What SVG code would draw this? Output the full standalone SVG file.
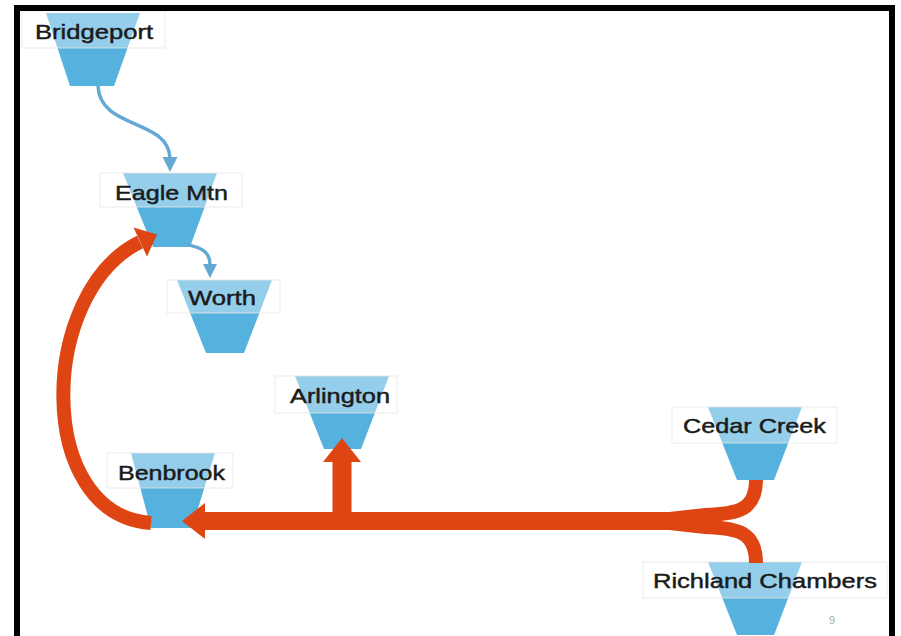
<svg xmlns="http://www.w3.org/2000/svg" width="901" height="636" viewBox="0 0 901 636">
<style>
.trap{fill:#55b1dd}
.lbl{fill:#ffffff;fill-opacity:0.38;stroke:#e6e6e6;stroke-width:0.8}
.txt{font-family:"Liberation Sans",Arial,sans-serif;font-size:21px;fill:#1a1a1a;stroke:#1a1a1a;stroke-width:0.45;text-anchor:middle}
.blue{fill:none;stroke:#64a8d4;stroke-width:3.5}
.bluehead{fill:#64a8d4}
.org{fill:none;stroke:#df4512}
.orghead{fill:#df4512}
</style>
<rect width="901" height="636" fill="#ffffff"/>
<g id="node-bridgeport">
<path class="trap" d="M46,13 L140,13 L114,86 L70,86 Z"/>
<rect class="lbl" x="22" y="11" width="143" height="37"/>
<text class="txt" x="94" y="39" textLength="118" lengthAdjust="spacingAndGlyphs">Bridgeport</text>
</g>
<g id="node-eagle-mtn">
<path class="trap" d="M123,173 L217,173 L190,247 L153,247 Z"/>
<rect class="lbl" x="100" y="173" width="142" height="34"/>
<text class="txt" x="171.5" y="200" textLength="113" lengthAdjust="spacingAndGlyphs">Eagle Mtn</text>
</g>
<g id="node-worth">
<path class="trap" d="M177,280 L272,280 L244,353 L206,353 Z"/>
<rect class="lbl" x="167" y="280" width="113" height="33"/>
<text class="txt" x="222" y="305" textLength="68" lengthAdjust="spacingAndGlyphs">Worth</text>
</g>
<g id="node-arlington">
<path class="trap" d="M295,376 L389,376 L361,449 L324,449 Z"/>
<rect class="lbl" x="275" y="376" width="122" height="37"/>
<text class="txt" x="340" y="403" textLength="100" lengthAdjust="spacingAndGlyphs">Arlington</text>
</g>
<g id="node-benbrook">
<path class="trap" d="M131,453 L215,453 L192,528 L151,528 Z"/>
<rect class="lbl" x="107" y="453" width="126" height="35"/>
<text class="txt" x="171.5" y="480" textLength="107" lengthAdjust="spacingAndGlyphs">Benbrook</text>
</g>
<g id="node-cedar-creek">
<path class="trap" d="M708,407 L802,407 L774,480 L737,480 Z"/>
<rect class="lbl" x="672" y="407" width="165" height="36"/>
<text class="txt" x="754.5" y="433" textLength="143" lengthAdjust="spacingAndGlyphs">Cedar Creek</text>
</g>
<g id="node-richland-chambers">
<path class="trap" d="M708,562 L802,562 L774,635 L737,635 Z"/>
<rect class="lbl" x="643" y="562" width="244" height="36"/>
<text class="txt" x="765" y="588" textLength="224" lengthAdjust="spacingAndGlyphs">Richland Chambers</text>
</g>
<g id="connectors">
<path class="blue" d="M98,86 C100,130 168,118 170,158"/>
<polygon class="bluehead" points="170,172 162.5,157 177.5,157"/>
<path class="blue" d="M186,244 C200,248 210,250 210,265"/>
<polygon class="bluehead" points="210,278 203,264 217,264"/>
<path class="org" stroke-width="14" d="M151,523 C34,515 38,292 140,242"/>
<polygon class="orghead" points="157,234.5 147,256.5 133.5,227.4"/>
<path class="org" stroke-width="14" d="M756,480 C756,510 738,514 705,515 L670,519"/>
<path class="org" stroke-width="14" d="M756,563 C756,532 738,528 705,527 L670,523"/>
<path class="org" stroke-width="18" d="M672,521 L203,521"/>
<polygon class="orghead" points="182,521 205,503 205,539"/>
<path class="org" stroke-width="19" d="M342,521 L342,460"/>
<polygon class="orghead" points="342,438 323,462 361,462"/>
</g>
<text x="832" y="624" font-family="Liberation Sans, Arial, sans-serif" font-size="11" fill="#aaaaaa" text-anchor="middle">9</text>
<rect x="17" y="8" width="875" height="640" fill="none" stroke="#000000" stroke-width="6"/>
</svg>
